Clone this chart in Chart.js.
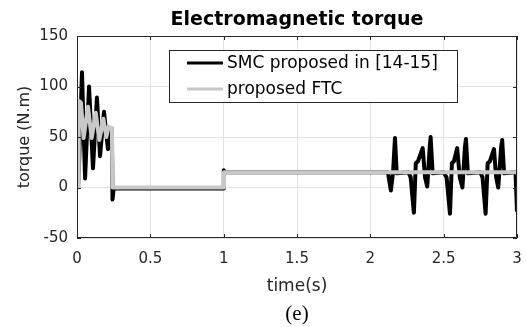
<!DOCTYPE html>
<html><head><meta charset="utf-8">
<script src="https://cdn.jsdelivr.net/npm/chart.js@4/dist/chart.umd.min.js"></script>
<style>html,body{margin:0;padding:0;background:#fff;overflow:hidden}#wrap{width:527px;height:327px;position:relative}</style>
</head><body><div id="wrap"><canvas id="c"></canvas></div>
<script>
const chartTitle = 'Electromagnetic torque';
const xAxisLabel = 'time(s)';
const yAxisLabel = 'torque (N.m)';
const panelLabel = '(e)';
const seriesNames = ['SMC proposed in [14-15]', 'proposed FTC'];
const xTickValues = [0, 0.5, 1, 1.5, 2, 2.5, 3];
const yTickValues = [-50, 0, 50, 100, 150];

const smcTime = [0, 0.01, 0.034, 0.055, 0.082, 0.109, 0.136, 0.157, 0.184, 0.211, 0.232, 0.238, 0.242, 0.25, 0.6, 0.999,
  1.0, 1.002, 1.01, 1.5, 2.12, 2.14, 2.155, 2.168, 2.18, 2.26, 2.275, 2.297, 2.31, 2.325, 2.357, 2.373, 2.388, 2.405, 2.411, 2.425,
  2.50, 2.52, 2.543, 2.556, 2.57, 2.592, 2.61, 2.628, 2.645, 2.652, 2.665,
  2.75, 2.765, 2.786, 2.80, 2.815, 2.843, 2.858, 2.872, 2.892, 2.899, 2.912, 2.99, 3.0];
const smcTorque = [0, 5, 114, 9, 100, 19, 89, 31, 75, 38, 58, 57, -12, -1, -1, -1,
  -1, 17, 15, 15, 15, -3, 15, 49, 14, 15, 10, -25, 24, 26, 39, 10, 1, 40, 50, 14,
  15, 10, -26, 24, 26, 39, 10, 0, 40, 48, 14,
  15, 10, -26, 24, 26, 38, 10, 0, 40, 47, 14, 15, -24];

const ftcTime = [0, 0.009, 0.012, 0.027, 0.045, 0.075, 0.10, 0.128, 0.152, 0.18, 0.20, 0.215, 0.238, 0.242, 0.6, 1.0, 1.002, 2.0, 3.0];
const ftcTorque = [0, 0, 86, 84, 49, 80, 49, 74, 47, 68, 50, 60, 59, 0, 0, 0, 15, 15, 15];

const toPoints = (xs, ys) => xs.map((v, i) => ({x: v, y: ys[i]}));

const FONT = "'DejaVu Sans', 'Liberation Sans', sans-serif";
const AXC = '#262626';

const decor = {
  id: 'decor',
  afterDatasetsDraw(chart) {
    const {ctx, chartArea: a, scales: {x, y}} = chart;
    ctx.save();
    ctx.strokeStyle = AXC; ctx.lineWidth = 1;
    ctx.strokeRect(a.left + 0.5, a.top + 0.5, a.right - a.left - 1, a.bottom - a.top - 1);
    ctx.beginPath();
    xTickValues.forEach(v => {
      const px = Math.round(x.getPixelForValue(v)) + 0.5;
      ctx.moveTo(px, a.bottom); ctx.lineTo(px, a.bottom - 4);
      ctx.moveTo(px, a.top); ctx.lineTo(px, a.top + 4);
    });
    yTickValues.forEach(v => {
      const py = Math.round(y.getPixelForValue(v)) + 0.5;
      ctx.moveTo(a.left, py); ctx.lineTo(a.left + 4, py);
      ctx.moveTo(a.right, py); ctx.lineTo(a.right - 4, py);
    });
    ctx.stroke();
    ctx.restore();
  },
  afterDraw(chart) {
    const {ctx, chartArea: a} = chart;
    const cx = (a.left + a.right) / 2;
    ctx.save();
    ctx.fillStyle = '#000';
    ctx.textAlign = 'center'; ctx.textBaseline = 'middle';
    ctx.font = "bold 19px " + FONT;
    ctx.fillText(chartTitle, cx, 20);
    ctx.font = "21px 'Liberation Serif', 'Times New Roman', serif";
    ctx.fillText(panelLabel, cx, 314);
    // legend
    const bx = 169, by = 50, bw = 288, bh = 52;
    ctx.fillStyle = '#fff';
    ctx.fillRect(bx, by, bw, bh);
    ctx.strokeStyle = '#262626'; ctx.lineWidth = 1;
    ctx.strokeRect(bx + 0.5, by + 0.5, bw, bh);
    ctx.font = "17px " + FONT;
    ctx.textAlign = 'left';
    chart.data.datasets.forEach((ds, i) => {
      const ly = 63 + i * 26;
      ctx.strokeStyle = ds.borderColor; ctx.lineWidth = 3;
      ctx.beginPath(); ctx.moveTo(187, ly); ctx.lineTo(223, ly); ctx.stroke();
      ctx.fillStyle = '#000';
      ctx.fillText(ds.label, 227, ly + 1);
    });
    ctx.restore();
  }
};

new Chart(document.getElementById('c'), {
  type: 'line',
  data: {
    datasets: [
      {label: seriesNames[0], data: toPoints(smcTime, smcTorque), borderColor: '#000000', borderWidth: 4, order: 2},
      {label: seriesNames[1], data: toPoints(ftcTime, ftcTorque), borderColor: '#c8c8c8', borderWidth: 4, order: 1}
    ]
  },
  options: {
    responsive: true, maintainAspectRatio: false, animation: false,
    elements: {point: {radius: 0}, line: {tension: 0, borderJoinStyle: 'round'}},
    layout: {padding: {top: 36, right: 10, left: 0, bottom: 0}},
    plugins: {legend: {display: false}, title: {display: false}, tooltip: {enabled: false}},
    scales: {
      x: {
        type: 'linear', min: 0, max: 3,
        afterBuildTicks: s => { s.ticks = xTickValues.map(v => ({value: v})); },
        afterFit: s => { s.height = 89; s.paddingRight = 0; s.paddingLeft = 0; },
        grid: {color: '#e3e3e3', drawTicks: false},
        border: {display: false},
        ticks: {color: AXC, font: {family: FONT, size: 15}, padding: 12, maxRotation: 0, callback: v => String(v)},
        title: {display: true, text: xAxisLabel, color: AXC, font: {family: FONT, size: 17}, padding: {top: 0, bottom: 30}}
      },
      y: {
        min: -50, max: 150,
        afterBuildTicks: s => { s.ticks = yTickValues.map(v => ({value: v})); },
        afterFit: s => { s.width = 77; },
        grid: {color: '#e3e3e3', drawTicks: false},
        border: {display: false},
        ticks: {color: AXC, font: {family: FONT, size: 15}, padding: 9, callback: v => String(v)},
        title: {display: true, text: yAxisLabel, color: AXC, font: {family: FONT, size: 16}, padding: {top: 15, bottom: 0}}
      }
    }
  },
  plugins: [decor]
});
</script></body></html>
